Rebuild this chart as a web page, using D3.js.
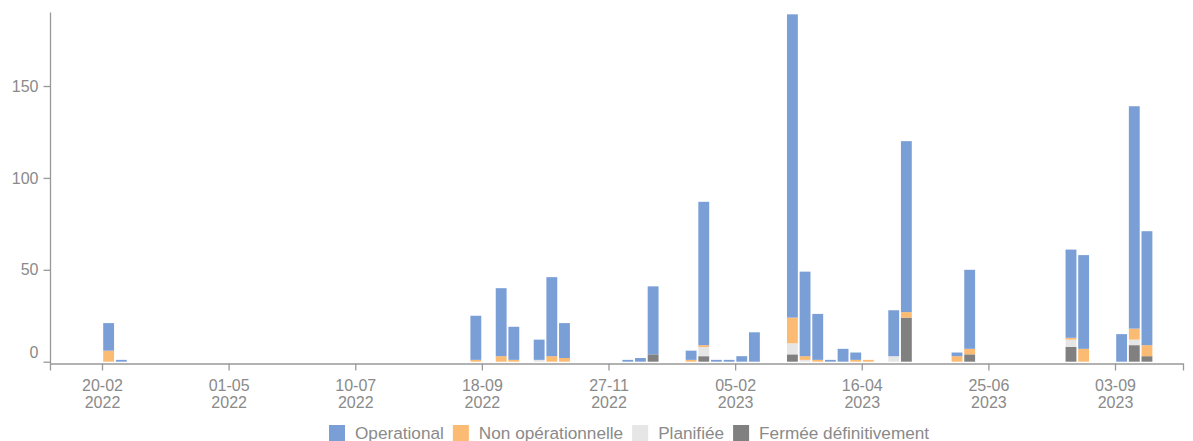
<!DOCTYPE html>
<html>
<head>
<meta charset="utf-8">
<script src="https://cdn.jsdelivr.net/npm/d3@7"></script>
<style>
  body { margin: 0; background: #fff; }
  svg { display: block; font-family: "Liberation Sans", Arial, sans-serif; }
  .tick text { fill: #8a8a8a; }
</style>
</head>
<body>
<script>
// weeks (sunday starts) with at least one station
var weeks = ["2022-02-20", "2022-02-27", "2022-09-11", "2022-09-25", "2022-10-02",
             "2022-10-16", "2022-10-23", "2022-10-30", "2022-12-04", "2022-12-11",
             "2022-12-18", "2023-01-08", "2023-01-15", "2023-01-22", "2023-01-29",
             "2023-02-05", "2023-02-12", "2023-03-05", "2023-03-12", "2023-03-19",
             "2023-03-26", "2023-04-02", "2023-04-09", "2023-04-16", "2023-04-30",
             "2023-05-07", "2023-06-04", "2023-06-11", "2023-08-06", "2023-08-13",
             "2023-09-03", "2023-09-10", "2023-09-17"]

// counts per status, same order as weeks
var fermee      = [0, 0, 0, 0, 0, 0, 0, 0, 0, 0, 4, 0, 3, 0, 0, 0, 0, 4, 0, 0, 0, 0, 0, 0, 0, 24, 0, 4, 8, 0, 0, 9, 3]
var planifiee   = [0, 0, 0, 0, 0, 1, 0, 0, 0, 0, 0, 0, 5, 0, 0, 0, 0, 6, 1, 0, 0, 0, 0, 0, 3, 0, 0, 0, 4, 0, 0, 3, 0]
var nonOp       = [6, 0, 1, 3, 1, 0, 3, 2, 0, 0, 0, 1, 1, 0, 0, 0, 0, 14, 2, 1, 0, 0, 1, 1, 0, 3, 3, 3, 1, 7, 0, 6, 6]
var operational = [15, 1, 24, 37, 18, 11, 43, 19, 1, 2, 37, 5, 78, 1, 1, 3, 16, 165, 46, 25, 1, 7, 4, 0, 25, 93, 2, 43, 48, 51, 15, 121, 62]

// x tick dates and y ticks
var xTicks = ["2022-02-20", "2022-05-01", "2022-07-10", "2022-09-18", "2022-11-27",
              "2023-02-05", "2023-04-16", "2023-06-25", "2023-09-03"]
var yTicks = [0, 50, 100, 150]

var seriesKeys   = ["fermee", "planifiee", "nonOp", "operational"]
var seriesNames  = ["Operational", "Non opérationnelle", "Planifiée", "Fermée définitivement"]
var seriesColors = {operational: "#7a9fd7", nonOp: "#fbbb73", planifiee: "#e6e6e6", fermee: "#808080"}

var w = 1193
var h = 441
var margins = {left: 50, right: 10, top: 12.5, axis: 361.7}

var parse = d3.timeParse("%Y-%m-%d")

var svg = d3.select("body")
            .append("svg")
            .attr("width", w)
            .attr("height", h)

// build rows for the stack
var rows = weeks.map(function(d, i) {
  return {date: parse(d), fermee: fermee[i], planifiee: planifiee[i],
          nonOp: nonOp[i], operational: operational[i]}
})

// tick positions fix the scale, then widen it to the axis ends
var base = d3.scaleTime()
             .domain([parse(xTicks[0]), parse(xTicks[xTicks.length - 1])])
             .range([102, 1115])
var xScale = d3.scaleTime()
               .domain([base.invert(margins.left), base.invert(w - margins.right)])
               .range([margins.left, w - margins.right])

var yScale = d3.scaleLinear()
               .domain([0, 190])
               .range([margins.axis, margins.top])

var stacked = d3.stack().keys(seriesKeys)(rows)

// draw the bars
svg.append("g")
   .selectAll("g")
   .data(stacked)
   .enter()
   .append("g")
   .attr("fill", function(d) { return seriesColors[d.key] })
   .selectAll("rect")
   .data(function(d) { return d.filter(function(p) { return p[1] > p[0] }) })
   .enter()
   .append("rect")
   .attr("x", function(d) { return xScale(d.data.date) + 1.2 })
   .attr("width", function(d) {
      return xScale(d3.timeDay.offset(d.data.date, 7)) - xScale(d.data.date) - 1.8
   })
   .attr("y", function(d) { return yScale(d[1]) })
   .attr("height", function(d) { return yScale(d[0]) - yScale(d[1]) })

// x axis
var xAxis = svg.append("g")
   .attr("transform", "translate(0,363.5)")
   .call(d3.axisBottom(xScale)
           .tickValues(xTicks.map(parse))
           .tickSizeOuter(0)
           .tickSize(7)
           .tickFormat(""))

xAxis.selectAll(".tick text").remove()
xAxis.selectAll(".tick").append("text")
     .attr("text-anchor", "middle")
     .style("font-size", "16px")
     .each(function(d) {
        var t = d3.select(this)
        t.append("tspan").attr("x", 0).attr("y", 27.5).text(d3.timeFormat("%d-%m")(d))
        t.append("tspan").attr("x", 0).attr("y", 44).text(d3.timeFormat("%Y")(d))
     })

// y axis
var yAxis = svg.append("g")
   .attr("transform", "translate(50.5,0)")
   .call(d3.axisLeft(yScale)
           .tickValues(yTicks)
           .tickSizeOuter(0)
           .tickSize(7)
           .tickPadding(5))

yAxis.selectAll(".tick text").style("font-size", "16px")
// the zero label sits a bit above its tick
yAxis.selectAll(".tick text").filter(function(d) { return d === 0 }).attr("dy", "-0.25em")
yAxis.select(".domain").attr("d", "M0," + margins.top + "V" + 364)

svg.selectAll(".domain, .tick line").attr("stroke", "#999").attr("stroke-width", 1.3)

// legend (runs off the bottom edge like the original)
var legend = svg.append("g")
var lx = 329
seriesNames.forEach(function(name, i) {
  var key = seriesKeys[3 - i]
  legend.append("rect")
        .attr("x", lx)
        .attr("y", 425)
        .attr("width", 16)
        .attr("height", 16)
        .attr("fill", seriesColors[key])
  var label = legend.append("text")
        .attr("x", lx + 26)
        .attr("y", 439)
        .style("font-size", "17.2px")
        .attr("fill", "#8a8a8a")
        .text(name)
  lx = lx + 26 + label.node().getComputedTextLength() + 9
})
</script>
</body>
</html>
